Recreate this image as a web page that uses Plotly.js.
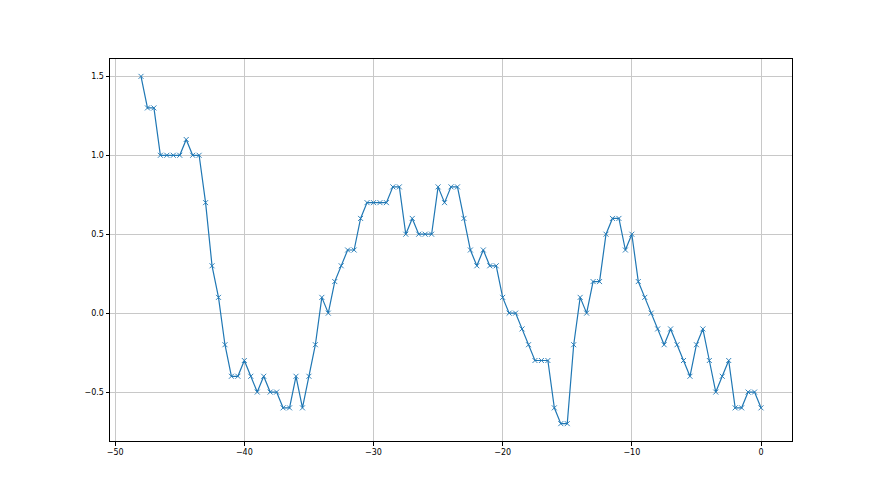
<!DOCTYPE html>
<html>
<head>
<meta charset="utf-8">
<script src="https://cdn.plot.ly/plotly-3.0.1.min.js"></script>
<style>html,body{margin:0;padding:0;background:#fff;}#chart{width:880px;height:495px;}</style>
</head>
<body>
<div id="chart"></div>
<script>
const xStart = -48;
const xStep = 0.5;
const yValues = [
  1.5, 1.3, 1.3, 1.0, 1.0, 1.0, 1.0, 1.1, 1.0, 1.0,
  0.7, 0.3, 0.1, -0.2, -0.4, -0.4, -0.3, -0.4, -0.5, -0.4,
  -0.5, -0.5, -0.6, -0.6, -0.4, -0.6, -0.4, -0.2, 0.1, 0.0,
  0.2, 0.3, 0.4, 0.4, 0.6, 0.7, 0.7, 0.7, 0.7, 0.8,
  0.8, 0.5, 0.6, 0.5, 0.5, 0.5, 0.8, 0.7, 0.8, 0.8,
  0.6, 0.4, 0.3, 0.4, 0.3, 0.3, 0.1, 0.0, 0.0, -0.1,
  -0.2, -0.3, -0.3, -0.3, -0.6, -0.7, -0.7, -0.2, 0.1, 0.0,
  0.2, 0.2, 0.5, 0.6, 0.6, 0.4, 0.5, 0.2, 0.1, 0.0,
  -0.1, -0.2, -0.1, -0.2, -0.3, -0.4, -0.2, -0.1, -0.3, -0.5,
  -0.4, -0.3, -0.6, -0.6, -0.5, -0.5, -0.6
];
const xValues = yValues.map((_, i) => xStart + i * xStep);
const xTicks = [-50, -40, -30, -20, -10, 0];
const yTicks = [-0.5, 0.0, 0.5, 1.0, 1.5];

const trace = {
  x: xValues, y: yValues, type: 'scatter', mode: 'lines+markers',
  line: {color: '#1f77b4', width: 1.2},
  marker: {symbol: 'x-thin', size: 5, color: '#1f77b4', line: {color: '#1f77b4', width: 0.9}}
};
const axisCommon = {
  showline: true, mirror: true, linecolor: '#000', linewidth: 1,
  ticks: 'outside', ticklen: 3.5, tickcolor: '#000', tickwidth: 1,
  showgrid: true, gridcolor: '#c8c8c8', gridwidth: 1, zeroline: false,
  tickfont: {family: 'DejaVu Sans', size: 8, color: '#000'}
};
const layout = {
  width: 880, height: 495,
  margin: {l: 110, r: 88, t: 59, b: 54},
  paper_bgcolor: '#fff', plot_bgcolor: '#fff',
  showlegend: false,
  xaxis: Object.assign({}, axisCommon, {range: [-50.4, 2.4], tickvals: xTicks, ticktext: xTicks.map(v => v < 0 ? '\u2212' + Math.abs(v) : String(v))}),
  yaxis: Object.assign({}, axisCommon, {range: [-0.81, 1.61], tickvals: yTicks, ticktext: yTicks.map(v => (v < 0 ? '\u2212' : '') + Math.abs(v).toFixed(1))})
};
Plotly.newPlot('chart', [trace], layout, {displayModeBar: false, staticPlot: true});
</script>
</body>
</html>
